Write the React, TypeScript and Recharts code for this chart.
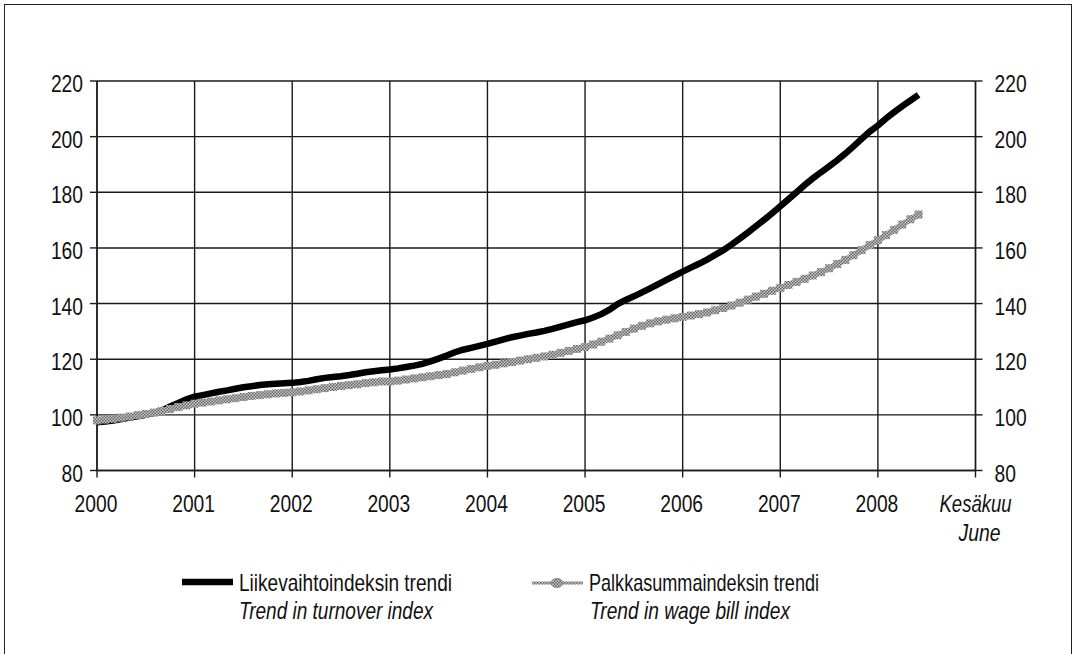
import { LineChart, Line, XAxis, YAxis, CartesianGrid } from "recharts"

const FONT = "'Liberation Sans', Arial, Helvetica, sans-serif"

const startYear = 2000
const xTicks = [2000, 2001, 2002, 2003, 2004, 2005, 2006, 2007, 2008, 2009]
const yTicks = [80, 100, 120, 140, 160, 180, 200, 220]

// Liikevaihtoindeksin trendi, monthly 1/2000 - 6/2008
const turnover = [
  97.3, 97.6, 98.0, 98.5, 99.0, 99.5, 100.0, 100.7, 101.6, 103.0, 104.3, 105.6,
  106.5, 107.1, 107.7, 108.3, 108.8, 109.4, 109.9, 110.3, 110.7, 111.0, 111.2, 111.4,
  111.5, 111.8, 112.2, 112.8, 113.3, 113.6, 113.9, 114.3, 114.8, 115.3, 115.7, 116.0,
  116.3, 116.7, 117.2, 117.7, 118.3, 119.2, 120.2, 121.3, 122.5, 123.4, 124.1, 124.8,
  125.5, 126.3, 127.1, 127.9, 128.5, 129.1, 129.6, 130.2, 130.9, 131.7, 132.5, 133.3,
  134.0, 135.0, 136.2, 137.8, 139.8, 141.3, 142.6, 144.0, 145.5, 147.0, 148.5, 150.0,
  151.5, 152.9, 154.3, 155.8, 157.5, 159.2, 161.2, 163.3, 165.5, 167.8, 170.1, 172.5,
  175.0, 177.5, 180.0, 182.6, 185.0, 187.2, 189.3, 191.5, 193.9, 196.5, 199.2, 201.8,
  204.0, 206.5, 208.8, 211.0, 213.0, 215.0,
]

// Palkkasummaindeksin trendi, monthly 1/2000 - 6/2008
const wageBill = [
  98.0, 98.3, 98.6, 99.0, 99.4, 99.9, 100.3, 100.8, 101.4, 102.1, 102.8, 103.4,
  104.0, 104.4, 104.8, 105.2, 105.6, 106.0, 106.4, 106.8, 107.1, 107.4, 107.7, 107.9,
  108.1, 108.4, 108.8, 109.2, 109.6, 110.0, 110.4, 110.7, 111.0, 111.4, 111.7, 112.0,
  112.0, 112.3, 112.7, 113.1, 113.5, 113.9, 114.3, 114.7, 115.3, 115.9, 116.5, 117.1,
  117.6, 118.0, 118.5, 119.0, 119.5, 120.0, 120.5, 121.0, 121.6, 122.3, 123.0, 123.7,
  124.4, 125.3, 126.3, 127.4, 128.6, 129.8, 131.0, 132.0, 132.9, 133.6, 134.2, 134.7,
  135.2, 135.7, 136.2, 136.8, 137.6, 138.4, 139.3, 140.3, 141.4, 142.5, 143.5, 144.6,
  145.6, 146.7, 147.8, 148.9, 150.1, 151.3, 152.7, 154.2, 155.7, 157.4, 159.2, 161.0,
  162.8, 164.6, 166.5, 168.4, 170.3, 172.0,
]

const data = turnover.map((v, i) => ({
  t: startYear + i / 12,
  turnover: v,
  wage: wageBill[i],
}))

const CHAR_W = 10.7

function XTick(props: any) {
  const { x, y, payload } = props
  if (payload.value === 2009) {
    return (
      <g fontFamily={FONT} fontSize={23} fontStyle="italic" fill="#111">
        <text x={x} y={y + 34} textAnchor="middle" textLength={72} lengthAdjust="spacingAndGlyphs">
          Kesäkuu
        </text>
        <text x={x + 4} y={y + 63} textAnchor="middle" textLength={42} lengthAdjust="spacingAndGlyphs">
          June
        </text>
      </g>
    )
  }
  const s = String(payload.value)
  return (
    <text x={x - 1} y={y + 34} textAnchor="middle" fontFamily={FONT} fontSize={23} fill="#111"
      textLength={s.length * CHAR_W} lengthAdjust="spacingAndGlyphs">
      {s}
    </text>
  )
}

function YTick(props: any) {
  const { x, y, payload, orientation } = props
  const s = String(payload.value)
  return (
    <text x={x} y={y + 11} textAnchor={orientation === "right" ? "start" : "end"} fontFamily={FONT}
      fontSize={23} fill="#111" textLength={s.length * CHAR_W} lengthAdjust="spacingAndGlyphs">
      {s}
    </text>
  )
}

function SquareDot(props: any) {
  const { cx, cy, index } = props
  if (cx == null || cy == null) return <g key={`d${index}`} />
  return <rect key={`d${index}`} x={cx - 4} y={cy - 4} width={8} height={8} fill="url(#halftone) #999" />
}

function LegendOverlay() {
  return (
    <svg width={1077} height={654} style={{ position: "absolute", left: 0, top: 0, pointerEvents: "none" }}>
      <defs>
        <pattern id="halftoneLeg" width="3" height="3" patternUnits="userSpaceOnUse">
          <rect width="3" height="3" fill="#d0d0d0" />
          <rect width="1.5" height="1.5" fill="#5a5a5a" />
          <rect x="1.5" y="1.5" width="1.5" height="1.5" fill="#5a5a5a" />
        </pattern>
      </defs>
      <line x1={182} y1={582} x2={233} y2={582} stroke="#000" strokeWidth={6.5} />
      <g fontFamily={FONT} fontSize={24} fill="#111">
        <text x={239} y={591} textLength={213} lengthAdjust="spacingAndGlyphs">Liikevaihtoindeksin trendi</text>
        <text x={239} y={619} fontStyle="italic" textLength={194} lengthAdjust="spacingAndGlyphs">
          Trend in turnover index
        </text>
        <text x={589} y={591} textLength={230} lengthAdjust="spacingAndGlyphs">Palkkasummaindeksin trendi</text>
        <text x={590} y={619} fontStyle="italic" textLength={200} lengthAdjust="spacingAndGlyphs">
          Trend in wage bill index
        </text>
      </g>
      <line x1={532} y1={583} x2={583} y2={583} stroke="url(#halftoneLeg)" strokeWidth={3} />
      <ellipse cx={557} cy={583} rx={6} ry={4.5} fill="url(#halftoneLeg)" stroke="#777" strokeWidth={0.8} />
    </svg>
  )
}

export default function App() {
  return (
    <div style={{ position: "absolute", left: 0, top: 0, width: 1077, height: 654, background: "#fff", overflow: "hidden" }}>
      <div
        style={{
          position: "absolute", left: 4, top: 4, width: 1068, height: 700,
          border: "1.5px solid #222", boxSizing: "border-box",
        }}
      />
      <LineChart
        width={1077}
        height={654}
        data={data}
        margin={{ top: 81, right: 41.5, bottom: 123.5, left: 37 }}
      >
        <defs>
          <pattern id="halftone" width="3" height="3" patternUnits="userSpaceOnUse">
            <rect width="3" height="3" fill="#c8c8c8" />
            <rect width="1.5" height="1.5" fill="#666" />
            <rect x="1.5" y="1.5" width="1.5" height="1.5" fill="#666" />
          </pattern>
        </defs>
        <CartesianGrid yAxisId="l" stroke="#1a1a1a" strokeWidth={1.4} />
        <XAxis
          dataKey="t"
          type="number"
          domain={[2000, 2009]}
          ticks={xTicks}
          interval={0}
          height={60}
          tickSize={7}
          tickMargin={0}
          stroke="#1a1a1a"
          strokeWidth={1.4}
          tick={<XTick />}
        />
        <YAxis
          yAxisId="l"
          orientation="left"
          domain={[80, 220]}
          ticks={yTicks}
          interval={0}
          width={60}
          tickSize={7}
          tickMargin={7}
          stroke="#1a1a1a"
          strokeWidth={1.4}
          tick={<YTick orientation="left" />}
          allowDataOverflow
        />
        <YAxis
          yAxisId="r"
          orientation="right"
          domain={[80, 220]}
          ticks={yTicks}
          interval={0}
          width={60}
          tickSize={7}
          tickMargin={12}
          stroke="#1a1a1a"
          strokeWidth={1.4}
          tick={<YTick orientation="right" />}
          allowDataOverflow
        />
        <Line
          yAxisId="l"
          type="linear"
          dataKey="turnover"
          stroke="#000"
          strokeWidth={6.5}
          dot={false}
          isAnimationActive={false}
        />
        <Line
          yAxisId="l"
          type="linear"
          dataKey="wage"
          stroke="url(#halftone) #999"
          strokeWidth={6}
          dot={<SquareDot />}
          isAnimationActive={false}
        />
      </LineChart>
      <LegendOverlay />
    </div>
  )
}
